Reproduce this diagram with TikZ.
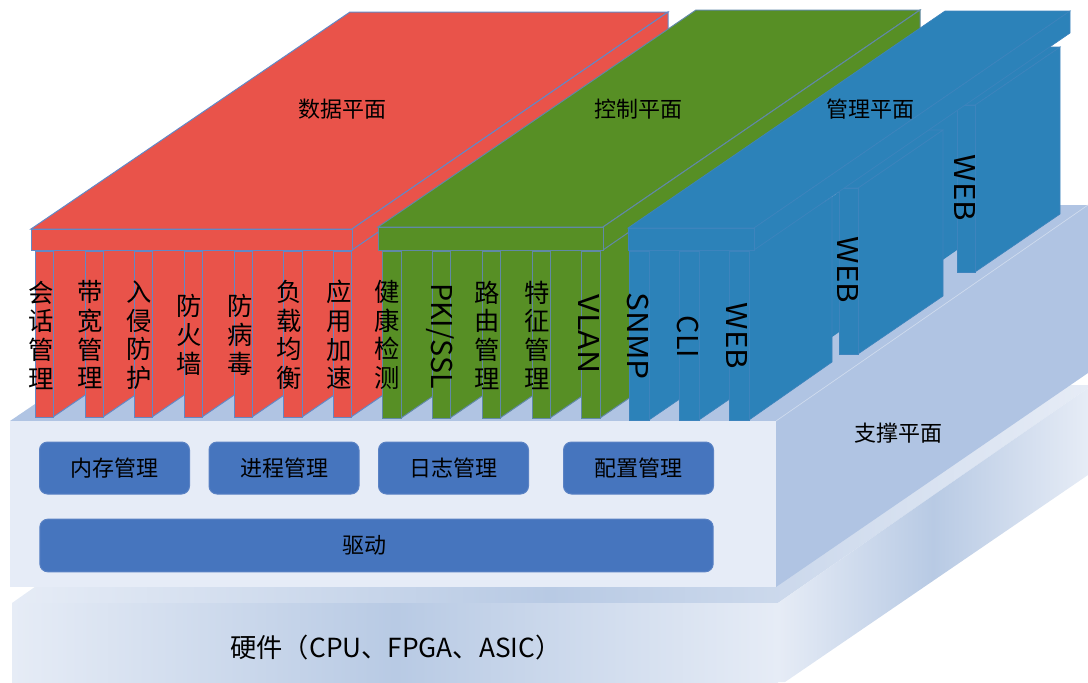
\documentclass[tikz,border=0pt]{standalone}
\usepackage{fontspec}
\setmainfont{Noto Sans CJK SC}
\definecolor{redface}{HTML}{E9534A}
\definecolor{greenface}{HTML}{578F25}
\definecolor{blueface}{HTML}{2C82B9}
\definecolor{planeblue}{HTML}{B0C4E3}
\definecolor{palepanel}{HTML}{E6ECF7}
\definecolor{boxblue}{HTML}{4675BE}
\definecolor{edgeblue}{HTML}{6388C6}
\definecolor{hardlight}{HTML}{E6ECF6}
\definecolor{harddark}{HTML}{B8CAE4}
\tikzset{
  redpart/.style={draw=edgeblue,line width=0.75,fill=redface},
  greenpart/.style={draw=edgeblue!80!greenface,line width=0.75,fill=greenface},
  bluepart/.style={draw=edgeblue!30!blueface,line width=0.5,fill=blueface},
  hardpart/.style={left color=hardlight,right color=hardlight,middle color=harddark},
  planetitle/.style={inner sep=0pt,font=\fontsize{16.5}{20}\selectfont},
  pillartext/.style={inner sep=0pt,align=center,font=\fontsize{19}{21.5}\selectfont},
  pillarlatin/.style={inner sep=0pt,rotate=-90,font=\fontsize{21.5}{25}\selectfont},
  roundbox/.style={draw=edgeblue!70!boxblue,line width=0.75,fill=boxblue,rounded corners=6,inner sep=0pt,font=\fontsize{16.5}{20}\selectfont}
}
\begin{document}
\begin{tikzpicture}[x=0.75pt,y=0.75pt,yscale=-1,xscale=1]
\path [use as bounding box] (0,0) rectangle (1088,682);

%Hardware
\shade [hardpart] (12,603) -- (778,603) -- (1088,388) -- (1088,385) -- (322,385) -- cycle ;
\shade [hardpart] (778,603) -- (1088,388) -- (1088,475) -- (785,682) -- (778,682) -- cycle ;
\shade [hardpart] (12,603) rectangle (778,682) ;

%Support plane
\fill [planeblue] (10,421) -- (38,402) -- (380,230) -- (1060,205) -- (1088,205) -- (1088,373) -- (776,587) -- (776,421) -- cycle ;
\draw [white!40!planeblue,line width=0.5] (776,421) -- (1088,205) ;
\fill [palepanel] (10,421) rectangle (776,587) ;

%Red pillars, sides
\draw [redpart] (53,250) -- (113,209) -- (113,376) -- (53,417) -- cycle ;
\draw [redpart] (103,250) -- (163,209) -- (163,376) -- (103,417) -- cycle ;
\draw [redpart] (152,250) -- (212,209) -- (212,376) -- (152,417) -- cycle ;
\draw [redpart] (202,250) -- (262,209) -- (262,376) -- (202,417) -- cycle ;
\draw [redpart] (252,250) -- (312,209) -- (312,376) -- (252,417) -- cycle ;
\draw [redpart] (302,250) -- (362,209) -- (362,376) -- (302,417) -- cycle ;
\draw [redpart] (351,250) -- (411,209) -- (411,376) -- (351,417) -- cycle ;
%Red pillars, fronts
\draw [redpart] (35,251) rectangle (53,417) ;
\draw [redpart] (85,251) rectangle (103,417) ;
\draw [redpart] (134,251) rectangle (152,417) ;
\draw [redpart] (184,251) rectangle (202,417) ;
\draw [redpart] (234,251) rectangle (252,417) ;
\draw [redpart] (283,251) rectangle (302,417) ;
\draw [redpart] (333,251) rectangle (351,417) ;
%Red block
\draw [redpart] (31,229) -- (350,12) -- (668,12) -- (352,229) -- cycle ;
\draw [redpart] (352,229) -- (668,12) -- (668,34) -- (352,250) -- cycle ;
\draw [redpart] (31,229) rectangle (352,250) ;

%Green pillars, sides
\draw [greenpart] (401,251) -- (461,210) -- (461,377) -- (401,418) -- cycle ;
\draw [greenpart] (450,251) -- (510,210) -- (510,377) -- (450,418) -- cycle ;
\draw [greenpart] (500,251) -- (560,210) -- (560,377) -- (500,418) -- cycle ;
\draw [greenpart] (550,251) -- (610,210) -- (610,377) -- (550,418) -- cycle ;
\draw [greenpart] (600,251) -- (660,210) -- (660,377) -- (600,418) -- cycle ;
%Green pillars, fronts
\draw [greenpart] (382,251) rectangle (401,418) ;
\draw [greenpart] (432,251) rectangle (450,418) ;
\draw [greenpart] (482,251) rectangle (500,418) ;
\draw [greenpart] (532,251) rectangle (550,418) ;
\draw [greenpart] (581,251) rectangle (600,418) ;
%Green block
\draw [greenpart] (378,227) -- (696,10) -- (920,10) -- (603,227) -- cycle ;
\draw [greenpart] (603,227) -- (920,10) -- (920,32) -- (603,250) -- cycle ;
\draw [greenpart] (378,227) rectangle (603,250) ;

%Blue wall behind the far pillars
\fill [blueface] (832,197) -- (957,105) -- (957,250) -- (832,337) -- cycle ;
%Blue pillars, far to near
\draw [bluepart] (975,105) -- (1060,47) -- (1060,214) -- (975,272) -- cycle ;
\draw [bluepart] (957,105) -- (975,105) -- (1060,47) -- (1048,47) -- cycle ;
\draw [bluepart] (957,105) rectangle (975,272) ;
\draw [bluepart] (858,188) -- (943,130) -- (943,296) -- (858,354) -- cycle ;
\draw [bluepart] (839,188) -- (858,188) -- (943,130) -- (928,130) -- cycle ;
\draw [bluepart] (839,188) rectangle (858,354) ;
\draw [bluepart] (649,251) -- (709,210) -- (709,379) -- (649,420) -- cycle ;
\draw [bluepart] (699,251) -- (759,210) -- (759,379) -- (699,420) -- cycle ;
\draw [bluepart] (749,250) -- (832,197) -- (832,362) -- (749,420) -- cycle ;
\draw [bluepart] (629,251) rectangle (649,420) ;
\draw [bluepart] (679,251) rectangle (699,420) ;
\draw [bluepart] (729,251) rectangle (749,420) ;
%Blue block
\draw [bluepart] (628,228) -- (945,11) -- (1070,11) -- (754,228) -- cycle ;
\draw [bluepart] (754,228) -- (1070,11) -- (1070,33) -- (754,250) -- cycle ;
\draw [bluepart] (628,228) rectangle (754,250) ;

% Text Node
\node (dataplane) [planetitle] at (342,109) {数据平面};
\node (ctrlplane) [planetitle] at (638,109) {控制平面};
\node (mgmtplane) [planetitle] at (870,109) {管理平面};
\node (supportplane) [planetitle] at (898,433) {支撑平面};

% Text Node
\node (session) [pillartext] at (41,335) {会\\话\\管\\理};
\node (bandwidth) [pillartext] at (90,335) {带\\宽\\管\\理};
\node (intrusion) [pillartext] at (139.5,335) {入\\侵\\防\\护};
\node (firewall) [pillartext] at (189,335) {防\\火\\墙};
\node (antivirus) [pillartext] at (240,335) {防\\病\\毒};
\node (balance) [pillartext] at (289.5,335) {负\\载\\均\\衡};
\node (accel) [pillartext] at (339,335) {应\\用\\加\\速};
\node (health) [pillartext] at (387,335) {健\\康\\检\\测};
\node (pki) [pillarlatin] at (440,336) {PKI/SSL};
\node (routing) [pillartext] at (487.5,335) {路\\由\\管\\理};
\node (feature) [pillartext] at (537,335) {特\\征\\管\\理};
\node (vlan) [pillarlatin,xscale=1.12] at (589,334) {VLAN};
\node (snmp) [pillarlatin,xscale=1.1] at (638,336) {SNMP};
\node (cli) [pillarlatin] at (688,337) {CLI};
\node (webnear) [pillarlatin,xscale=1.09] at (737,336) {WEB};
\node (webmid) [pillarlatin,xscale=1.09] at (848,270) {WEB};
\node (webfar) [pillarlatin,xscale=1.09] at (965,188) {WEB};

%Rounded Rect
\node (memory) [roundbox,minimum width=112.5,minimum height=39] at (114.5,468) {内存管理};
\node (process) [roundbox,minimum width=112.5,minimum height=39] at (284,468) {进程管理};
\node (logging) [roundbox,minimum width=112.5,minimum height=39] at (453.5,468) {日志管理};
\node (config) [roundbox,minimum width=112.5,minimum height=39] at (638.5,468) {配置管理};
\node (driver) [roundbox,minimum width=505,minimum height=39.5] at (376.5,545.5) {驱动\hspace*{18pt}};

% Text Node
\node (hardware) [inner sep=0pt,font=\fontsize{19.7}{24}\selectfont] at (396,648) {硬件（CPU、FPGA、ASIC）};
\end{tikzpicture}
\end{document}
